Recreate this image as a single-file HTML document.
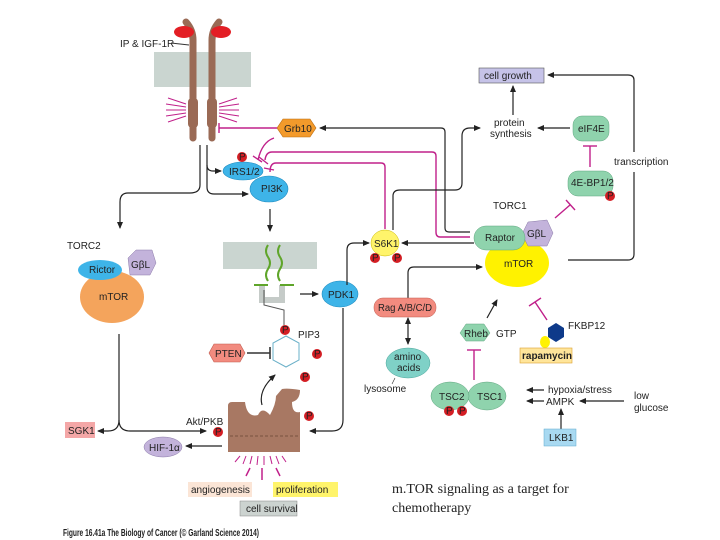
<!DOCTYPE html>
<html><head><meta charset="utf-8"><style>
body{margin:0;background:#fff}
svg{display:block}
text{font-family:"Liberation Sans",sans-serif;font-size:10px;fill:#222}
</style></head><body>
<svg width="720" height="540" viewBox="0 0 720 540" xmlns="http://www.w3.org/2000/svg">
<defs>
<marker id="a" markerWidth="8" markerHeight="8" refX="6" refY="4" orient="auto" markerUnits="userSpaceOnUse"><path d="M0,1 L7,4 L0,7 Z" fill="#222"/></marker>
<marker id="a2" markerWidth="8" markerHeight="8" refX="1" refY="4" orient="auto" markerUnits="userSpaceOnUse"><path d="M7,1 L0,4 L7,7 Z" fill="#222"/></marker>
</defs>
<rect x="154" y="52" width="97" height="35" fill="#cad5d0"/>
<g stroke="#9a6a55" stroke-width="7" fill="none" stroke-linecap="round">
<path d="M193,138 L193,40 Q193,30 186,22"/>
<path d="M212,138 L212,40 Q212,30 219,22"/>
</g>
<rect x="188" y="98" width="10" height="30" rx="4" fill="#9a6a55"/>
<rect x="207" y="98" width="10" height="30" rx="4" fill="#9a6a55"/>
<ellipse cx="184" cy="32" rx="10" ry="6" fill="#e31e24"/>
<ellipse cx="221" cy="32" rx="10" ry="6" fill="#e31e24"/>
<text x="120" y="47" font-size="9">IP &amp; IGF-1R</text>
<line x1="171" y1="43" x2="189" y2="45" stroke="#333"/>
<g stroke="#c0208a" stroke-width="1">
<line x1="168" y1="98" x2="186" y2="104"/><line x1="166" y1="104" x2="186" y2="107"/><line x1="166" y1="110" x2="186" y2="110"/><line x1="166" y1="116" x2="186" y2="113"/><line x1="168" y1="122" x2="186" y2="116"/>
<line x1="237" y1="98" x2="219" y2="104"/><line x1="239" y1="104" x2="219" y2="107"/><line x1="239" y1="110" x2="219" y2="110"/><line x1="239" y1="116" x2="219" y2="113"/><line x1="237" y1="122" x2="219" y2="116"/>
</g>
<polygon points="277,128 283,119 310,119 316,128 310,137 283,137" fill="#f39a2b" stroke="#b86a10" stroke-width="0.6"/>
<text x="284" y="132" font-size="9">Grb10</text>
<g stroke="#c0208a" stroke-width="1.4" fill="none">
<line x1="277" y1="128" x2="219" y2="128"/><line x1="219" y1="123" x2="219" y2="133"/>
<path d="M274,138 Q262,142 258,160"/>
<path d="M470,237 L440,237 Q436,237 436,232 L436,156 Q436,152 432,152 L272,152 Q266,152 265,160"/>
<path d="M385,229 L385,167 Q385,163 381,163 L276,163 Q270,163 270,172"/>
<line x1="253" y1="156" x2="262" y2="162"/><line x1="259" y1="157" x2="268" y2="164"/><line x1="264" y1="168" x2="274" y2="170"/>
</g>
<ellipse cx="243" cy="171" rx="20" ry="9" fill="#3eb4e8" stroke="#1f8cc0" stroke-width="0.6"/>
<text x="229" y="175" font-size="9" fill="#1a3a5a">IRS1/2</text>
<circle cx="242" cy="157" r="5" fill="#d41e24"/><text x="239" y="160" font-size="7" fill="#fff">P</text>
<ellipse cx="269" cy="189" rx="19" ry="13" fill="#3eb4e8" stroke="#1f8cc0" stroke-width="0.6"/>
<text x="261" y="192" font-size="9" fill="#1a3a5a">PI3K</text>
<g stroke="#222" stroke-width="1.2" fill="none">
<path d="M200,145 L200,185 Q200,193 190,193 L128,193 Q120,193 120,202 L120,228" marker-end="url(#a)"/>
<path d="M207,145 L207,165 Q207,171 213,171 L221,171" marker-end="url(#a)"/>
<path d="M207,165 L207,187 Q207,194 214,194 L248,194" marker-end="url(#a)"/>
<line x1="270" y1="209" x2="270" y2="231" marker-end="url(#a)"/>
</g>
<rect x="223" y="242" width="94" height="27" fill="#cad5d0"/>
<path d="M262,285 L262,300 L282,300 L282,285" stroke="#c5cbc8" stroke-width="6" fill="none"/>
<g stroke="#5fa52a" stroke-width="2" fill="none">
<path d="M268,245 q-4,6 0,12 q4,6 0,12 q-4,6 0,12"/>
<path d="M280,245 q-4,6 0,12 q4,6 0,12 q-4,6 0,12"/>
<line x1="254" y1="285" x2="268" y2="285"/><line x1="280" y1="285" x2="294" y2="285"/>
</g>
<path d="M264,290 L264,305 L284,310 L284,325" stroke="#555" fill="none"/>
<ellipse cx="340" cy="294" rx="18" ry="13" fill="#3eb4e8" stroke="#1f8cc0" stroke-width="0.6"/>
<text x="328" y="298" font-size="9" fill="#1a3a5a">PDK1</text>
<line x1="300" y1="294" x2="318" y2="294" stroke="#222" stroke-width="1.2" marker-end="url(#a)"/>
<polygon points="286,336 299,343 299,360 286,367 273,360 273,343" fill="none" stroke="#6ab0c8"/>
<text x="298" y="338" font-size="9">PIP3</text>
<g fill="#d41e24"><circle cx="285" cy="330" r="5"/><circle cx="317" cy="354" r="5"/><circle cx="305" cy="377" r="5"/><circle cx="218" cy="432" r="5"/><circle cx="309" cy="416" r="5"/></g>
<g font-size="7"><text x="282" y="333" fill="#fff">P</text><text x="314" y="357" fill="#fff">P</text><text x="302" y="380" fill="#fff">P</text><text x="215" y="435" fill="#fff">P</text><text x="306" y="419" fill="#fff">P</text></g>
<polygon points="209,353 214,344 240,344 245,353 240,362 214,362" fill="#f28b7f" stroke="#c05a4e" stroke-width="0.6"/>
<text x="215" y="357" font-size="9">PTEN</text>
<line x1="247" y1="353" x2="270" y2="353" stroke="#333" stroke-width="1.6"/><line x1="270" y1="347" x2="270" y2="359" stroke="#333" stroke-width="1.6"/>
<path d="M228,406 Q228,402 232,402 L245,402 Q247,418 258,415 Q262,406 270,415 Q276,404 276,396 L282,389 Q288,388 300,390 Q300,400 292,402 Q292,414 300,412 L300,452 L228,452 Z" fill="#a87863"/>
<line x1="230" y1="436" x2="300" y2="436" stroke="#6a4535" stroke-dasharray="3,2" stroke-width="0.7"/>
<text x="186" y="425" font-size="9">Akt/PKB</text>
<path d="M262,405 Q258,390 275,375" stroke="#222" stroke-width="1.2" fill="none" marker-end="url(#a)"/>
<g stroke="#c0208a" stroke-width="1">
<line x1="240" y1="456" x2="235" y2="462"/><line x1="246" y1="456" x2="243" y2="464"/><line x1="252" y1="456" x2="250" y2="464"/><line x1="258" y1="456" x2="257" y2="465"/><line x1="264" y1="456" x2="264" y2="465"/><line x1="270" y1="456" x2="272" y2="464"/><line x1="276" y1="456" x2="279" y2="464"/><line x1="282" y1="456" x2="286" y2="462"/>
<line x1="250" y1="468" x2="246" y2="476" stroke-width="1.5"/><line x1="262" y1="468" x2="262" y2="480" stroke-width="1.5"/><line x1="276" y1="468" x2="280" y2="476" stroke-width="1.5"/>
</g>
<rect x="188" y="482" width="64" height="15" fill="#fbe5d6"/><text x="191" y="493" font-size="9">angiogenesis</text>
<rect x="273" y="482" width="65" height="15" fill="#fff46b"/><text x="276" y="493" font-size="9">proliferation</text>
<rect x="240" y="501" width="57" height="15" fill="#ccd3d0" stroke="#888" stroke-width="0.5"/><text x="246" y="512" font-size="9">cell survival</text>
<text x="63" y="536" font-size="7.5" font-weight="bold" fill="#333" textLength="196" lengthAdjust="spacingAndGlyphs">Figure 16.41a The Biology of Cancer (© Garland Science 2014)</text>
<text x="67" y="249" font-size="13">TORC2</text>
<ellipse cx="112" cy="297" rx="32" ry="26" fill="#f4a45c"/>
<text x="99" y="300" font-size="9">mTOR</text>
<polygon points="128,258 136,250 152,250 156,263 150,275 130,275" fill="#c3b3db" stroke="#8a79a8" stroke-width="0.5"/>
<text x="131" y="268" font-size="9">GβL</text>
<ellipse cx="100" cy="270" rx="22" ry="10" fill="#3eb4e8"/>
<text x="89" y="273" font-size="9" fill="#1a3a5a">Rictor</text>
<g stroke="#222" stroke-width="1.2" fill="none">
<path d="M119,334 L119,420 Q119,431 108,431 L98,431" marker-end="url(#a)"/>
<path d="M119,420 Q119,431 130,431 L206,431" marker-end="url(#a)"/>
<path d="M343,308 L343,420 Q343,431 332,431 L310,431" marker-end="url(#a)"/>
<line x1="222" y1="446" x2="186" y2="446" marker-end="url(#a)"/>
<path d="M347,285 L347,250 Q347,243 354,243 L369,243" marker-end="url(#a)"/>
</g>
<rect x="65" y="422" width="30" height="16" fill="#f4a7a7"/><text x="68" y="434" font-size="9">SGK1</text>
<ellipse cx="163" cy="447" rx="19" ry="10" fill="#c3b3db" stroke="#8a79a8" stroke-width="0.5"/><text x="149" y="451" font-size="9">HIF-1α</text>
<ellipse cx="385" cy="243" rx="14" ry="13" fill="#fff46b" stroke="#c9b800" stroke-width="0.5"/>
<text x="374" y="247" font-size="9">S6K1</text>
<circle cx="375" cy="258" r="5" fill="#d41e24"/><circle cx="397" cy="258" r="5" fill="#d41e24"/>
<text x="372" y="261" font-size="7" fill="#fff">P</text><text x="394" y="261" font-size="7" fill="#fff">P</text>
<g stroke="#222" stroke-width="1.2" fill="none">
<path d="M470,232 L449,232 Q445,232 445,228 L445,132 Q445,128 441,128 L320,128" marker-end="url(#a)"/>
<path d="M393,230 L393,196 Q393,190 400,190 L455,190 Q462,190 462,183 L462,136 Q462,128 470,128 L480,128" marker-end="url(#a)"/>
<line x1="474" y1="243" x2="402" y2="243" marker-end="url(#a)"/>
<path d="M408,298 L408,273 Q408,267 414,267 L482,267" marker-end="url(#a)"/>
<line x1="513" y1="115" x2="513" y2="86" marker-end="url(#a)"/>
<line x1="570" y1="128" x2="538" y2="128" marker-end="url(#a)"/>
<path d="M568,260 L628,260 Q634,260 634,254 L634,172"/>
<path d="M634,152 L634,80 Q634,75 628,75 L548,75" marker-end="url(#a)"/>
<line x1="487" y1="318" x2="497" y2="300" marker-end="url(#a)"/>
<line x1="408" y1="318" x2="408" y2="344" marker-end="url(#a)" marker-start="url(#a2)"/>
<line x1="544" y1="390" x2="527" y2="390" marker-end="url(#a)"/>
<line x1="544" y1="401" x2="527" y2="401" marker-end="url(#a)"/>
<line x1="624" y1="401" x2="580" y2="401" marker-end="url(#a)"/>
<line x1="561" y1="429" x2="561" y2="409" marker-end="url(#a)"/>
</g>
<text x="493" y="209" font-size="13">TORC1</text>
<ellipse cx="517" cy="263" rx="32" ry="24" fill="#fff200"/>
<text x="504" y="267" font-size="9">mTOR</text>
<polygon points="528,222 547,220 553,233 547,246 528,246 522,234" fill="#c3b3db" stroke="#8a79a8" stroke-width="0.5"/>
<text x="527" y="237" font-size="9">GβL</text>
<rect x="474" y="226" width="51" height="24" rx="12" fill="#8fd3ad" stroke="#5ea57e" stroke-width="0.5"/>
<text x="485" y="241" font-size="9">Raptor</text>
<rect x="479" y="68" width="65" height="15" fill="#c6c3e8" stroke="#555" stroke-width="0.6"/>
<text x="484" y="79" font-size="9">cell growth</text>
<text x="494" y="126" font-size="9">protein</text><text x="490" y="137" font-size="9">synthesis</text>
<rect x="573" y="116" width="36" height="25" rx="9" fill="#8fd3ad" stroke="#5ea57e" stroke-width="0.5"/>
<text x="578" y="132" font-size="9">eIF4E</text>
<rect x="568" y="171" width="45" height="25" rx="10" fill="#8fd3ad" stroke="#5ea57e" stroke-width="0.5"/>
<text x="571" y="186" font-size="8.5">4E-BP1/2</text>
<circle cx="610" cy="196" r="5" fill="#d41e24"/><text x="607" y="199" font-size="7" fill="#fff">P</text>
<text x="614" y="165" font-size="9">transcription</text>
<g stroke="#c0208a" stroke-width="1.4">
<line x1="590" y1="167" x2="590" y2="146"/><line x1="583" y1="146" x2="597" y2="146"/>
<line x1="555" y1="218" x2="570" y2="205"/><line x1="566" y1="200" x2="575" y2="210"/>
<line x1="474" y1="380" x2="474" y2="350"/><line x1="467" y1="350" x2="481" y2="350"/>
<line x1="547" y1="320" x2="535" y2="302"/><line x1="529" y1="306" x2="541" y2="298"/>
</g>
<rect x="374" y="298" width="62" height="19" rx="9" fill="#f28b7f" stroke="#c05a4e" stroke-width="0.5"/>
<text x="378" y="311" font-size="8" textLength="54" lengthAdjust="spacingAndGlyphs">Rag A/B/C/D</text>
<ellipse cx="408" cy="363" rx="22" ry="15" fill="#7fd1c7" stroke="#4da79c" stroke-width="0.5"/>
<text x="394" y="360" font-size="8.5">amino</text><text x="397" y="371" font-size="8.5">acids</text>
<line x1="395" y1="378" x2="392" y2="384" stroke="#333" stroke-width="0.6"/>
<text x="364" y="392" font-size="9">lysosome</text>
<polygon points="460,333 466,324 484,324 490,333 484,341 466,341" fill="#8fd3ad" stroke="#5ea57e" stroke-width="0.5"/>
<text x="464" y="337" font-size="8.5">Rheb</text><text x="496" y="337" font-size="9">GTP</text>
<ellipse cx="487" cy="396" rx="19" ry="14" fill="#8fd3ad" stroke="#5ea57e" stroke-width="0.5"/>
<ellipse cx="450" cy="396" rx="19" ry="14" fill="#8fd3ad" stroke="#5ea57e" stroke-width="0.5"/>
<text x="439" y="400" font-size="9">TSC2</text><text x="477" y="400" font-size="9">TSC1</text>
<circle cx="449" cy="411" r="5" fill="#d41e24"/><circle cx="462" cy="411" r="5" fill="#d41e24"/>
<text x="446" y="414" font-size="7" fill="#fff">P</text><text x="459" y="414" font-size="7" fill="#fff">P</text>
<polygon points="556,323 564,328 564,337 556,342 548,337 548,328" fill="#0e3a8a"/>
<ellipse cx="545" cy="342" rx="5" ry="6" fill="#fff200"/>
<text x="568" y="329" font-size="9">FKBP12</text>
<rect x="520" y="348" width="52" height="15" fill="#ffe59a" stroke="#d9a030" stroke-width="0.6"/>
<text x="522" y="359" font-size="9" font-weight="bold">rapamycin</text>
<text x="548" y="393" font-size="8.5">hypoxia/stress</text>
<text x="546" y="405" font-size="9">AMPK</text>
<text x="634" y="399" font-size="9">low</text><text x="634" y="411" font-size="9">glucose</text>
<rect x="544" y="429" width="32" height="17" fill="#a8d9f1" stroke="#5fa9cf" stroke-width="0.5"/>
<text x="549" y="441" font-size="9">LKB1</text>
<text x="392" y="493" style="font-family:'Liberation Serif',serif;font-size:14px" fill="#000">m.TOR signaling as a target for</text>
<text x="392" y="512" style="font-family:'Liberation Serif',serif;font-size:14px" fill="#000">chemotherapy</text>
</svg>
</body></html>
